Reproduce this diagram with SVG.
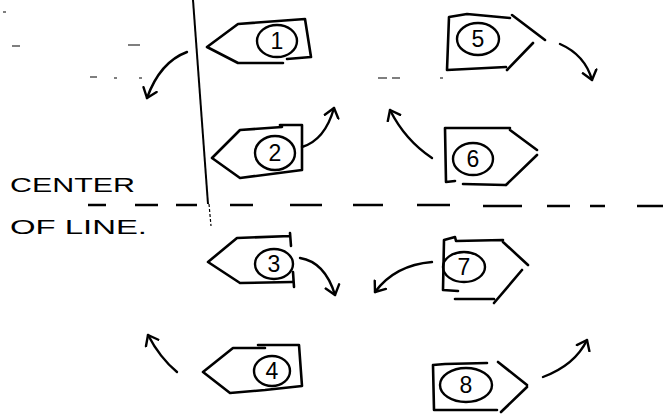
<svg xmlns="http://www.w3.org/2000/svg" width="663" height="415" viewBox="0 0 663 415">
<style>
.s{fill:none;stroke:#000;stroke-width:2.6;stroke-linecap:round;stroke-linejoin:round}
.c{fill:none;stroke:#000;stroke-width:2.4}
.n{font-family:"Liberation Sans",Arial,sans-serif;font-size:23px;text-anchor:middle;fill:#000}
.t{font-family:"Liberation Sans",Arial,sans-serif;font-size:21px;fill:#000}
.a{fill:none;stroke:#000;stroke-width:2.4;stroke-linecap:round;marker-end:url(#ah)}
.d{fill:none;stroke:#000;stroke-width:2.4;stroke-linecap:butt}
.f{fill:none;stroke:#555;stroke-width:1.4}
</style>
<defs>
<marker id="ah" markerUnits="userSpaceOnUse" markerWidth="20" markerHeight="20" refX="10" refY="10" orient="auto">
<path d="M1,3 L10,10 L1,17" fill="none" stroke="#000" stroke-width="2.4" stroke-linecap="round" stroke-linejoin="round"/>
</marker>
</defs>
<g id="faint-marks">
<path class="f" d="M3,12h3 M12,46h8 M128,45h12 M90,77h7 M114,78h3 M139,78h3 M378,78h9 M392,78h8 M440,78h3"/>
</g>
<g id="vertical-line">
<path d="M193,0 L208,204" fill="none" stroke="#000" stroke-width="2"/>
<path d="M209,204 L211,226" fill="none" stroke="#000" stroke-width="1.2" stroke-dasharray="3 2"/>
</g>
<g id="center-line">
<path class="d" d="M88,205h18 M135,205h23 M176,205h21 M230,205h23 M290,205h32 M353,205h30 M417,205h33 M483,206h39 M547,206h23 M590,206h15 M637,206h26"/>
</g>
<g id="label">
<text class="t" x="10" y="192" textLength="125" lengthAdjust="spacingAndGlyphs">CENTER</text>
<text class="t" x="10" y="234" textLength="137" lengthAdjust="spacingAndGlyphs">OF LINE.</text>
</g>
<g id="node1">
<path class="s" d="M207,47 L238,24 L305,19 L311,57 L287,59 M283,63 L238,63 L207,47"/>
<ellipse class="c" cx="277" cy="41" rx="20" ry="16"/>
<text class="n" x="277" y="49">1</text>
</g>
<g id="node2">
<path class="s" d="M212,158 L240,130 L282,127 L280,125 L302,125 L302,170 L240,178 L212,158"/>
<ellipse class="c" cx="275" cy="153" rx="20" ry="17"/>
<text class="n" x="275" y="161">2</text>
</g>
<g id="node3">
<path class="s" d="M290,233 L291,246 M293,272 L294,287 M290,236 L237,238 L208,262 L240,283 L292,282"/>
<ellipse class="c" cx="274" cy="264" rx="19" ry="15"/>
<text class="n" x="274" y="272">3</text>
</g>
<g id="node4">
<path class="s" d="M265,348 L233,348 L203,372 L230,393 L265,390 L302,386 L299,345 L258,345"/>
<ellipse class="c" cx="272" cy="371" rx="18" ry="15"/>
<text class="n" x="272" y="379">4</text>
</g>
<g id="node5">
<path class="s" d="M510,18 L467,14 L449,17 L447,70 L506,67 M512,15 L545,40 M533,43 L507,70"/>
<ellipse class="c" cx="478" cy="39" rx="21" ry="16"/>
<text class="n" x="478" y="47">5</text>
</g>
<g id="node6">
<path class="s" d="M510,128 L445,128 L446,182 L455,181 M463,184 L505,185 M510,130 L537,150 M537,155 L506,185"/>
<ellipse class="c" cx="473" cy="159" rx="20" ry="16"/>
<text class="n" x="473" y="167">6</text>
</g>
<g id="node7">
<path class="s" d="M503,240 L456,241 L455,237 L444,240 L443,290 L458,291 M455,299 L494,299 M503,242 L528,265 M522,270 L494,303"/>
<ellipse class="c" cx="464" cy="267" rx="21" ry="15"/>
<text class="n" x="464" y="275">7</text>
</g>
<g id="node8">
<path class="s" d="M487,363 L445,364 L433,365 L434,410 L497,410 M498,362 L527,385 M527,387 L501,412"/>
<ellipse class="c" cx="466" cy="385" rx="26" ry="17"/>
<text class="n" x="466" y="393">8</text>
</g>
<g id="connectors">
<path class="a" d="M187,52 Q160,62 147,98"/>
<path class="a" d="M302,147 Q325,140 334,108"/>
<path class="a" d="M300,258 Q325,262 335,295"/>
<path class="a" d="M177,372 Q160,358 148,335"/>
<path class="a" d="M560,44 Q585,55 592,80"/>
<path class="a" d="M432,158 Q405,140 390,110"/>
<path class="a" d="M432,262 Q395,265 375,292"/>
<path class="a" d="M543,377 Q575,365 587,340"/>
</g>
</svg>
